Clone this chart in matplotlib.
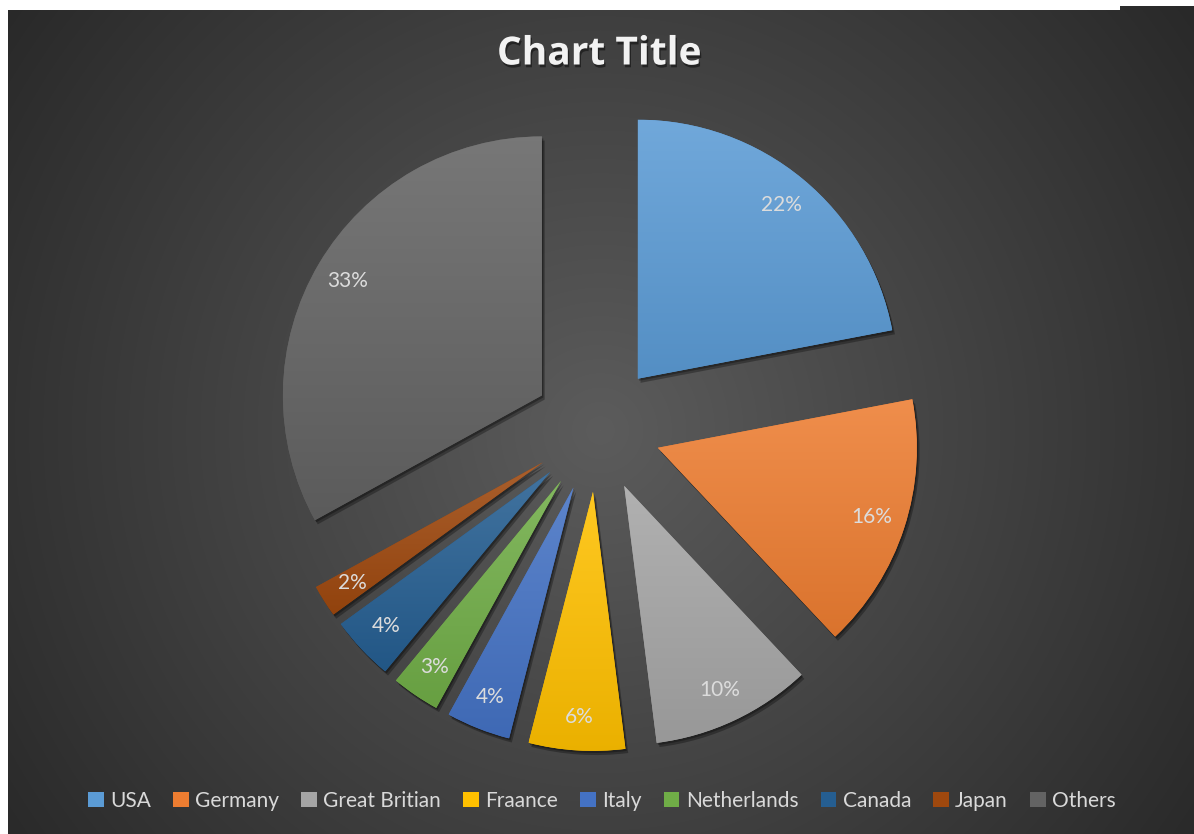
import numpy as np
import matplotlib
matplotlib.use("Agg")
import matplotlib.pyplot as plt
import matplotlib.patheffects as pe
from matplotlib.colors import to_rgb

## Data ---------------------------------------------

countries = ["USA", "Germany", "Great Britian", "Fraance", "Italy",
             "Netherlands", "Canada", "Japan", "Others"]
shares = [22, 16, 10, 6, 4, 3, 4, 2, 33]
colors = ["#5B9BD5", "#ED7D31", "#A5A5A5", "#FFC000", "#4472C4",
          "#70AD47", "#255E91", "#9E480E", "#636363"]

## Figure in pixel coords ---------------------------

W, H = 1194, 834
fig = plt.figure(figsize=(W / 100, H / 100), dpi=100, facecolor="white")
ax = fig.add_axes([0, 0, 1, 1])

# dark radial background
yy, xx = np.mgrid[0:H, 0:W]
dist = np.hypot(xx - 600, yy - 430)
val = np.clip(92 - 0.07 * dist, 36, 255) / 255.0
bg = np.dstack([val, val, val])
ax.imshow(bg[10:, 8:], extent=(8, W, 0, H - 10), origin="upper", zorder=0)
ax.imshow(bg[6:10, 1120:], extent=(1120, W, H - 10, H - 6), origin="upper", zorder=0)

## Pie ----------------------------------------------

wedges, texts, autotexts = ax.pie(
    shares, explode=[64] * len(shares), colors=colors,
    startangle=90, counterclock=False, radius=259, center=(597, 406),
    autopct="%1.0f%%", pctdistance=0.87,
    wedgeprops=dict(linewidth=0),
    textprops=dict(color="#dcdcdc", fontsize=15, family="Lato"),
)

for w, c in zip(wedges, colors):
    w.set_path_effects([pe.SimplePatchShadow(offset=(2, -3), alpha=0.3, shadow_rgbFace="black"),
                        pe.SimplePatchShadow(offset=(1, -1.5), alpha=0.3, shadow_rgbFace="black"),
                        pe.Normal()])
    w.set_zorder(2)
    base = np.array(to_rgb(c))
    top = base + (1 - base) * 0.13
    bot = base * 0.92
    t = np.linspace(0, 1, 200)[:, None]
    grad = (top[None, :] * (1 - t) + bot[None, :] * t)[:, None, :]
    bb = w.get_path().get_extents()
    im = ax.imshow(grad, extent=(bb.x0, bb.x1, bb.y0, bb.y1), origin="upper",
                   aspect="auto", zorder=3, interpolation="bilinear")
    im.set_clip_path(w)

for t in autotexts:
    t.set_zorder(5)

ax.set_xlim(0, W)
ax.set_ylim(0, H)
ax.set_aspect("auto")
ax.axis("off")

## Title & legend -----------------------------------

ax.text(599, H - 54, "Chart Title", ha="center", va="center", fontsize=28,
        fontweight="bold", family="Open Sans", color="#f2f2f2", zorder=6,
        path_effects=[pe.withSimplePatchShadow(offset=(1, -2), alpha=0.45, shadow_rgbFace="black")])

leg = fig.legend(wedges, countries, loc="center", bbox_to_anchor=(602 / W, 1 - 801 / H),
                 ncol=9, frameon=False, handlelength=0.75, handleheight=0.75,
                 handletextpad=0.3, columnspacing=1.07,
                 prop=dict(family="Lato", size=15))
for txt in leg.get_texts():
    txt.set_color("#d9d9d9")
for h in leg.legend_handles:
    h.set_path_effects([])

fig.savefig("out.png", dpi=100, facecolor="white")
